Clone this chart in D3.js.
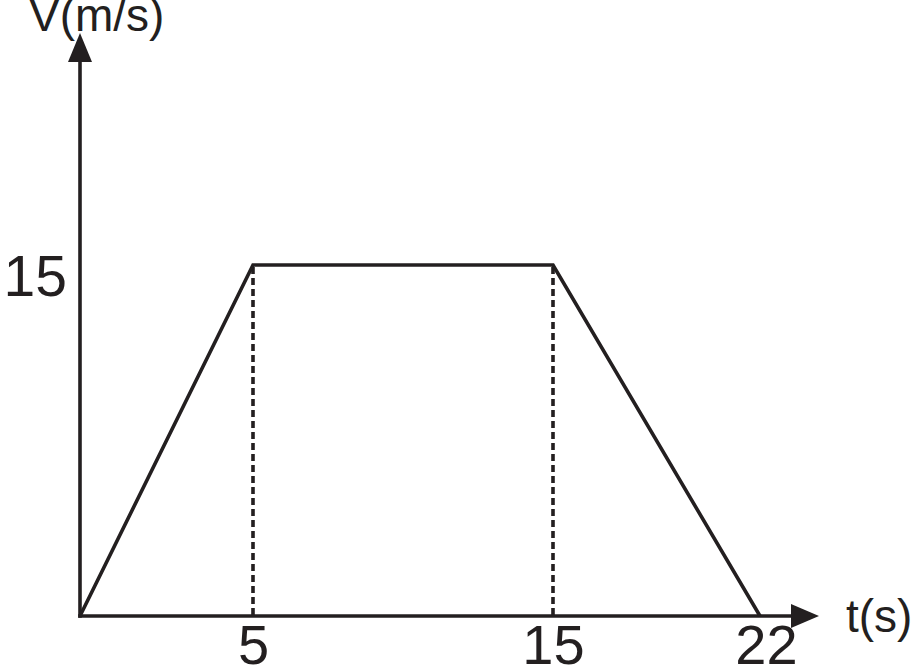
<!DOCTYPE html>
<html>
<head>
<meta charset="utf-8">
<script src="https://cdn.jsdelivr.net/npm/d3@7"></script>
<style>
  html, body { margin: 0; padding: 0; background: #fff; }
  svg { display: block; }
  text { font-family: "Liberation Sans", Arial, sans-serif; fill: #231f20; }
</style>
</head>
<body>
<svg id="chart" width="916" height="670"></svg>
<script>
// ---- data ----
const times = [0, 5, 15, 22];
const speeds = [0, 15, 15, 0];
const xTickValues = [5, 15, 22];
const xTickLabels = ["5", "15", "22"];
const yTickValues = [15];
const yTickLabels = ["15"];
const dashedAt = [5, 15];
const xAxisTitle = "t(s)";
const yAxisTitle = "V(m/s)";

// ---- layout ----
const svg = d3.select("#chart");
const ink = "#231f20";
const origin = { x: 80, y: 616 };

// the sketch is not drawn to scale: piecewise-linear time scale
const x = d3.scaleLinear().domain([0, 5, 15, 22]).range([80, 253, 553, 760]);
const y = d3.scaleLinear().domain([0, 15]).range([616, 265]);

// axes lines with arrowheads
const xEnd = 819, yEnd = 33;
svg.append("line")
  .attr("x1", origin.x - 1.8).attr("y1", origin.y)
  .attr("x2", xEnd - 20).attr("y2", origin.y)
  .attr("stroke", ink).attr("stroke-width", 3.6);
svg.append("path")
  .attr("d", `M${xEnd},${origin.y} L${xEnd - 28},${origin.y - 12} L${xEnd - 28},${origin.y + 12} Z`)
  .attr("fill", ink);
svg.append("line")
  .attr("x1", origin.x).attr("y1", origin.y + 1.8)
  .attr("x2", origin.x).attr("y2", yEnd + 20)
  .attr("stroke", ink).attr("stroke-width", 3.6);
svg.append("path")
  .attr("d", `M${origin.x},${yEnd} L${origin.x - 12},${yEnd + 29} L${origin.x + 12},${yEnd + 29} Z`)
  .attr("fill", ink);

// dashed guides
svg.append("g").selectAll("line").data(dashedAt).join("line")
  .attr("x1", d => x(d)).attr("x2", d => x(d))
  .attr("y1", y(15) + 2).attr("y2", y(0) - 1)
  .attr("stroke", ink).attr("stroke-width", 3.6)
  .attr("stroke-dasharray", "7,4");

// data line
const pts = times.map((t, i) => [t, speeds[i]]);
svg.append("path")
  .datum(pts)
  .attr("d", d3.line().x(d => x(d[0])).y(d => y(d[1])))
  .attr("fill", "none")
  .attr("stroke", ink)
  .attr("stroke-width", 3.6)
  .attr("stroke-linejoin", "miter");

// x tick labels via axis
const xAxis = d3.axisBottom(x).tickValues(xTickValues)
  .tickFormat((d, i) => xTickLabels[i]).tickSize(0).tickPadding(0);
const gx = svg.append("g").attr("transform", `translate(0,${origin.y})`).call(xAxis);
gx.select(".domain").remove();
gx.selectAll("text")
  .attr("y", 48).attr("dy", null)
  .style("font-family", "'Liberation Sans', Arial, sans-serif")
  .style("font-size", "56px").attr("fill", ink);
gx.selectAll(".tick").filter(d => d === 22).select("text").attr("x", 6);

// y tick labels via axis
const yAxis = d3.axisLeft(y).tickValues(yTickValues)
  .tickFormat((d, i) => yTickLabels[i]).tickSize(0).tickPadding(0);
const gy = svg.append("g").attr("transform", `translate(${origin.x},0)`).call(yAxis);
gy.select(".domain").remove();
gy.selectAll("text")
  .attr("x", -13).attr("dy", null).attr("y", 30)
  .style("font-family", "'Liberation Sans', Arial, sans-serif")
  .style("font-size", "57px").attr("fill", ink);

// axis titles
svg.append("text").attr("x", 29).attr("y", 31)
  .style("font-size", "46px").text(yAxisTitle);
svg.append("text").attr("x", 846).attr("y", 632)
  .style("font-size", "46px").text(xAxisTitle);
</script>
</body>
</html>
